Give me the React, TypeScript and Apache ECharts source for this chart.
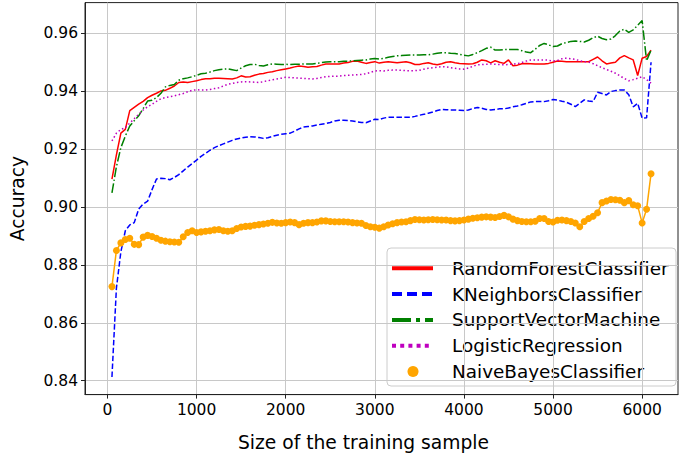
import React, { useEffect, useRef } from "react";
import * as echarts from "echarts";

// Training-set sizes (x) for every learning curve
const trainingSizes = [
  50, 100, 150, 200, 250, 300, 350, 400, 450, 500,
  550, 600, 650, 700, 750, 800, 850, 900, 950, 1000,
  1050, 1100, 1150, 1200, 1250, 1300, 1350, 1400, 1450, 1500,
  1550, 1600, 1650, 1700, 1750, 1800, 1850, 1900, 1950, 2000,
  2050, 2100, 2150, 2200, 2250, 2300, 2350, 2400, 2450, 2500,
  2550, 2600, 2650, 2700, 2750, 2800, 2850, 2900, 2950, 3000,
  3050, 3100, 3150, 3200, 3250, 3300, 3350, 3400, 3450, 3500,
  3550, 3600, 3650, 3700, 3750, 3800, 3850, 3900, 3950, 4000,
  4050, 4100, 4150, 4200, 4250, 4300, 4350, 4400, 4450, 4500,
  4550, 4600, 4650, 4700, 4750, 4800, 4850, 4900, 4950, 5000,
  5050, 5100, 5150, 5200, 5250, 5300, 5350, 5400, 5450, 5500,
  5550, 5600, 5650, 5700, 5750, 5800, 5850, 5900, 5950, 6000,
  6050, 6100,
];

const randomForest = [
  0.9096, 0.9180, 0.9255, 0.9268, 0.9333, 0.9344, 0.9355, 0.9365, 0.9378, 0.9386,
  0.9393, 0.9401, 0.9403, 0.9410, 0.9418, 0.9430, 0.9432, 0.9430, 0.9433, 0.9436,
  0.9440, 0.9443, 0.9443, 0.9445, 0.9445, 0.9444, 0.9443, 0.9442, 0.9446, 0.9453,
  0.9449, 0.9450, 0.9455, 0.9459, 0.9461, 0.9465, 0.9467, 0.9471, 0.9474, 0.9477,
  0.9480, 0.9484, 0.9487, 0.9485, 0.9483, 0.9484, 0.9485, 0.9490, 0.9494, 0.9494,
  0.9494, 0.9494, 0.9497, 0.9499, 0.9503, 0.9504, 0.9500, 0.9496, 0.9499, 0.9502,
  0.9497, 0.9500, 0.9502, 0.9500, 0.9498, 0.9500, 0.9502, 0.9498, 0.9492, 0.9492,
  0.9496, 0.9498, 0.9494, 0.9491, 0.9495, 0.9500, 0.9502, 0.9498, 0.9496, 0.9495,
  0.9494, 0.9495, 0.9500, 0.9508, 0.9505, 0.9498, 0.9505, 0.9500, 0.9496, 0.9508,
  0.9488, 0.9490, 0.9495, 0.9496, 0.9495, 0.9494, 0.9494, 0.9494, 0.9496, 0.9500,
  0.9504, 0.9503, 0.9502, 0.9502, 0.9502, 0.9502, 0.9502, 0.9502, 0.9510, 0.9518,
  0.9505, 0.9494, 0.9497, 0.9500, 0.9515, 0.9523, 0.9515, 0.9508, 0.9454, 0.9514,
  0.9520, 0.9542,
];

const kNeighbors = [
  0.8413, 0.8720, 0.8845, 0.8918, 0.8938, 0.8946, 0.8993, 0.9010, 0.9020, 0.9060,
  0.9097, 0.9099, 0.9098, 0.9094, 0.9102, 0.9112, 0.9125, 0.9138, 0.9150, 0.9162,
  0.9175, 0.9185, 0.9196, 0.9205, 0.9212, 0.9218, 0.9224, 0.9230, 0.9235, 0.9238,
  0.9241, 0.9243, 0.9242, 0.9240, 0.9237, 0.9239, 0.9244, 0.9248, 0.9251, 0.9253,
  0.9255, 0.9262, 0.9270, 0.9276, 0.9278, 0.9280, 0.9283, 0.9286, 0.9288, 0.9292,
  0.9297, 0.9300, 0.9300, 0.9299, 0.9297, 0.9294, 0.9292, 0.9291, 0.9297, 0.9303,
  0.9302, 0.9307, 0.9310, 0.9310, 0.9310, 0.9310, 0.9310, 0.9310, 0.9313, 0.9317,
  0.9320, 0.9324, 0.9328, 0.9333, 0.9337, 0.9336, 0.9335, 0.9335, 0.9334, 0.9333,
  0.9335, 0.9340, 0.9344, 0.9341, 0.9337, 0.9335, 0.9337, 0.9339, 0.9339, 0.9342,
  0.9346, 0.9349, 0.9353, 0.9358, 0.9363, 0.9364, 0.9364, 0.9364, 0.9367, 0.9371,
  0.9369, 0.9365, 0.9362, 0.9355, 0.9347, 0.9358, 0.9370, 0.9366, 0.9364, 0.9396,
  0.9392, 0.9387, 0.9399, 0.9402, 0.9404, 0.9404, 0.9388, 0.9346, 0.9358, 0.9307,
  0.9308, 0.9500,
];

const supportVector = [
  0.9049, 0.9139, 0.9205, 0.9245, 0.9280, 0.9298, 0.9315, 0.9340, 0.9366, 0.9369,
  0.9378, 0.9393, 0.9415, 0.9420, 0.9423, 0.9438, 0.9443, 0.9446, 0.9450, 0.9455,
  0.9460, 0.9462, 0.9466, 0.9471, 0.9474, 0.9476, 0.9477, 0.9474, 0.9471, 0.9480,
  0.9488, 0.9492, 0.9493, 0.9489, 0.9487, 0.9491, 0.9494, 0.9493, 0.9492, 0.9493,
  0.9492, 0.9493, 0.9493, 0.9494, 0.9494, 0.9494, 0.9496, 0.9499, 0.9501, 0.9502,
  0.9502, 0.9502, 0.9503, 0.9504, 0.9505, 0.9506, 0.9507, 0.9508, 0.9511, 0.9513,
  0.9511, 0.9513, 0.9517, 0.9520, 0.9522, 0.9523, 0.9524, 0.9525, 0.9525, 0.9525,
  0.9526, 0.9526, 0.9528, 0.9531, 0.9533, 0.9533, 0.9531, 0.9530, 0.9527, 0.9524,
  0.9522, 0.9527, 0.9533, 0.9540, 0.9548, 0.9552, 0.9542, 0.9542, 0.9544, 0.9544,
  0.9544, 0.9544, 0.9540, 0.9535, 0.9533, 0.9545, 0.9558, 0.9565, 0.9560, 0.9554,
  0.9556, 0.9564, 0.9568, 0.9572, 0.9573, 0.9572, 0.9570, 0.9576, 0.9585, 0.9590,
  0.9582, 0.9578, 0.9580, 0.9592, 0.9608, 0.9614, 0.9603, 0.9612, 0.9628, 0.9644,
  0.9505, 0.9542,
];

const logisticRegression = [
  0.9228, 0.9255, 0.9268, 0.9274, 0.9290, 0.9305, 0.9320, 0.9335, 0.9346, 0.9355,
  0.9365, 0.9374, 0.9378, 0.9381, 0.9384, 0.9388, 0.9392, 0.9398, 0.9403, 0.9405,
  0.9404, 0.9404, 0.9406, 0.9409, 0.9412, 0.9418, 0.9424, 0.9427, 0.9430, 0.9432,
  0.9433, 0.9432, 0.9431, 0.9430, 0.9433, 0.9436, 0.9439, 0.9442, 0.9445, 0.9448,
  0.9447, 0.9446, 0.9445, 0.9444, 0.9443, 0.9442, 0.9444, 0.9447, 0.9450, 0.9451,
  0.9452, 0.9452, 0.9454, 0.9455, 0.9456, 0.9457, 0.9458, 0.9460, 0.9465, 0.9470,
  0.9471, 0.9470, 0.9472, 0.9473, 0.9473, 0.9472, 0.9471, 0.9471, 0.9471, 0.9472,
  0.9476, 0.9479, 0.9481, 0.9483, 0.9485, 0.9484, 0.9481, 0.9479, 0.9477, 0.9476,
  0.9480, 0.9486, 0.9491, 0.9492, 0.9493, 0.9494, 0.9493, 0.9492, 0.9491, 0.9492,
  0.9494, 0.9495, 0.9499, 0.9504, 0.9508, 0.9508, 0.9508, 0.9508, 0.9507, 0.9504,
  0.9506, 0.9512, 0.9514, 0.9512, 0.9510, 0.9505, 0.9502, 0.9501, 0.9495, 0.9488,
  0.9481, 0.9475, 0.9469, 0.9462, 0.9453, 0.9444, 0.9436, 0.9440, 0.9445, 0.9450,
  0.9440, 0.9428,
];

const naiveBayes = [
  0.8725, 0.8850, 0.8876, 0.8888, 0.8892, 0.8871, 0.8870, 0.8896, 0.8902, 0.8898,
  0.8892, 0.8885, 0.8882, 0.8880, 0.8879, 0.8878, 0.8897, 0.8912, 0.8918, 0.8912,
  0.8914, 0.8916, 0.8918, 0.8921, 0.8922, 0.8918, 0.8916, 0.8918, 0.8926, 0.8931,
  0.8933, 0.8934, 0.8937, 0.8939, 0.8941, 0.8944, 0.8947, 0.8945, 0.8944, 0.8946,
  0.8948, 0.8946, 0.8939, 0.8944, 0.8946, 0.8946, 0.8948, 0.8952, 0.8952, 0.8950,
  0.8949, 0.8949, 0.8949, 0.8948, 0.8946, 0.8945, 0.8944, 0.8936, 0.8932, 0.8930,
  0.8927, 0.8932, 0.8938, 0.8942, 0.8946, 0.8948, 0.8949, 0.8953, 0.8957, 0.8956,
  0.8955, 0.8956, 0.8957, 0.8956, 0.8955, 0.8955, 0.8953, 0.8952, 0.8953, 0.8955,
  0.8958, 0.8961, 0.8963, 0.8965, 0.8966, 0.8965, 0.8964, 0.8967, 0.8971, 0.8966,
  0.8958, 0.8953, 0.8950, 0.8949, 0.8949, 0.8951, 0.8960, 0.8960, 0.8950, 0.8948,
  0.8954, 0.8955, 0.8953, 0.8950, 0.8945, 0.8932, 0.8950, 0.8960, 0.8968, 0.8980,
  0.9015, 0.9021, 0.9026, 0.9025, 0.9023, 0.9015, 0.9022, 0.9008, 0.9004, 0.8945,
  0.8992, 0.9115,
];

const modelNames = [
  "RandomForestClassifier",
  "KNeighborsClassifier",
  "SupportVectorMachine",
  "LogisticRegression",
  "NaiveBayesClassifier",
];

const xTickValues = [0, 1000, 2000, 3000, 4000, 5000, 6000];
const yTickValues = [0.84, 0.86, 0.88, 0.9, 0.92, 0.94, 0.96];

const FONT = "DejaVu Sans";

// Per-curve stroke styles (matplotlib-like: solid, dashed, dash-dot, dotted)
const curveStyles = [
  { color: "#ff0000", dash: "solid" as any, legendDash: null as number[] | null },
  { color: "#0000ff", dash: [5.5, 2.4], legendDash: [10, 5] },
  { color: "#008000", dash: [9.6, 2.4, 1.5, 2.4], legendDash: [19, 5, 4, 5] },
  { color: "#bf00bf", dash: [1.5, 2.5], legendDash: [4, 4.2] },
  { color: "#ffa500", dash: "solid" as any, legendDash: null },
];

const curveValues = [randomForest, kNeighbors, supportVector, logisticRegression, naiveBayes];

const toPairs = (vals: number[]) => trainingSizes.map((s, i) => [s, vals[i]]);

function buildLegend() {
  const boxX = 387;
  const boxY = 248;
  const rowY0 = 268.3;
  const rowStep = 25.8;
  const elements: any[] = [
    {
      type: "rect",
      shape: { x: boxX, y: boxY, width: 289, height: 138, r: 4 },
      style: { fill: "rgba(255,255,255,0.85)", stroke: "#cccccc", lineWidth: 1 },
    },
  ];
  modelNames.forEach((name, i) => {
    const y = rowY0 + i * rowStep;
    const st = curveStyles[i];
    if (i === 4) {
      elements.push({
        type: "circle",
        shape: { cx: 413, cy: y, r: 5.5 },
        style: { fill: st.color },
      });
    } else {
      elements.push({
        type: "line",
        shape: { x1: 392, y1: y, x2: 433, y2: y },
        style: {
          stroke: st.color,
          lineWidth: 4,
          lineDash: st.legendDash || undefined,
        },
      });
    }
    elements.push({
      type: "text",
      x: 452,
      y,
      style: {
        text: name,
        font: `18.4px "${FONT}"`,
        fill: "#000",
        verticalAlign: "middle",
        align: "left",
      },
    });
  });
  return [{ type: "group", z: 100, children: elements }];
}

export default function App() {
  const ref = useRef<HTMLDivElement>(null);

  useEffect(() => {
    if (!ref.current) return;
    const chart = echarts.init(ref.current, undefined, { renderer: "svg" });

    const series = modelNames.map((name, i) => {
      const st = curveStyles[i];
      const isNB = i === 4;
      return {
        name,
        type: "line",
        data: toPairs(curveValues[i]),
        symbol: isNB ? "circle" : "none",
        symbolSize: isNB ? 7 : 0,
        showSymbol: isNB,
        itemStyle: { color: st.color },
        lineStyle: { color: st.color, width: 1.5, type: st.dash },
        silent: true,
        z: 2 + i,
      };
    });

    chart.setOption({
      animation: false,
      backgroundColor: "#ffffff",
      grid: {
        left: 83.25,
        top: 2.6,
        width: 599.75,
        height: 392,
        show: true,
        backgroundColor: "#ffffff",
        borderColor: "#222222",
        borderWidth: 1,
      },
      xAxis: {
        type: "value",
        min: -252.5,
        max: 6402.5,
        splitNumber: 7,
        name: "Size of the training sample",
        nameLocation: "middle",
        nameGap: 38,
        nameTextStyle: {
          fontFamily: FONT,
          fontSize: 18.7,
          color: "#000",
          padding: [0, 36, 0, 0],
        },
        axisLine: { show: true, onZero: false, lineStyle: { color: "#222222", width: 1 } },
        axisTick: {
          show: true,
          inside: false,
          length: 4,
          customValues: xTickValues,
          lineStyle: { color: "#222222" },
        },
        axisLabel: {
          fontFamily: FONT,
          fontSize: 15.5,
          color: "#000",
          margin: 7,
          formatter: (v: number) => (xTickValues.includes(v) ? String(v) : ""),
        },
        splitLine: { show: true, lineStyle: { color: "#c8c8c8", width: 1 } },
      },
      yAxis: {
        type: "value",
        min: 0.8352,
        max: 0.9706,
        splitNumber: 7,
        name: "Accuracy",
        nameLocation: "middle",
        nameGap: 58,
        nameTextStyle: { fontFamily: FONT, fontSize: 18.7, color: "#000" },
        axisLine: { show: true, onZero: false, lineStyle: { color: "#222222", width: 1 } },
        axisTick: {
          show: true,
          inside: false,
          length: 4,
          customValues: yTickValues,
          lineStyle: { color: "#222222" },
        },
        axisLabel: {
          fontFamily: FONT,
          fontSize: 15.5,
          color: "#000",
          margin: 7,
          formatter: (v: number) =>
            yTickValues.some((t) => Math.abs(t - v) < 1e-9) ? v.toFixed(2) : "",
        },
        splitLine: { show: true, lineStyle: { color: "#c8c8c8", width: 1 } },
      },
      series,
      graphic: buildLegend(),
    });

    return () => chart.dispose();
  }, []);

  return (
    <div
      ref={ref}
      style={{ position: "absolute", left: 0, top: 0, width: 681, height: 457, overflow: "hidden" }}
    />
  );
}
